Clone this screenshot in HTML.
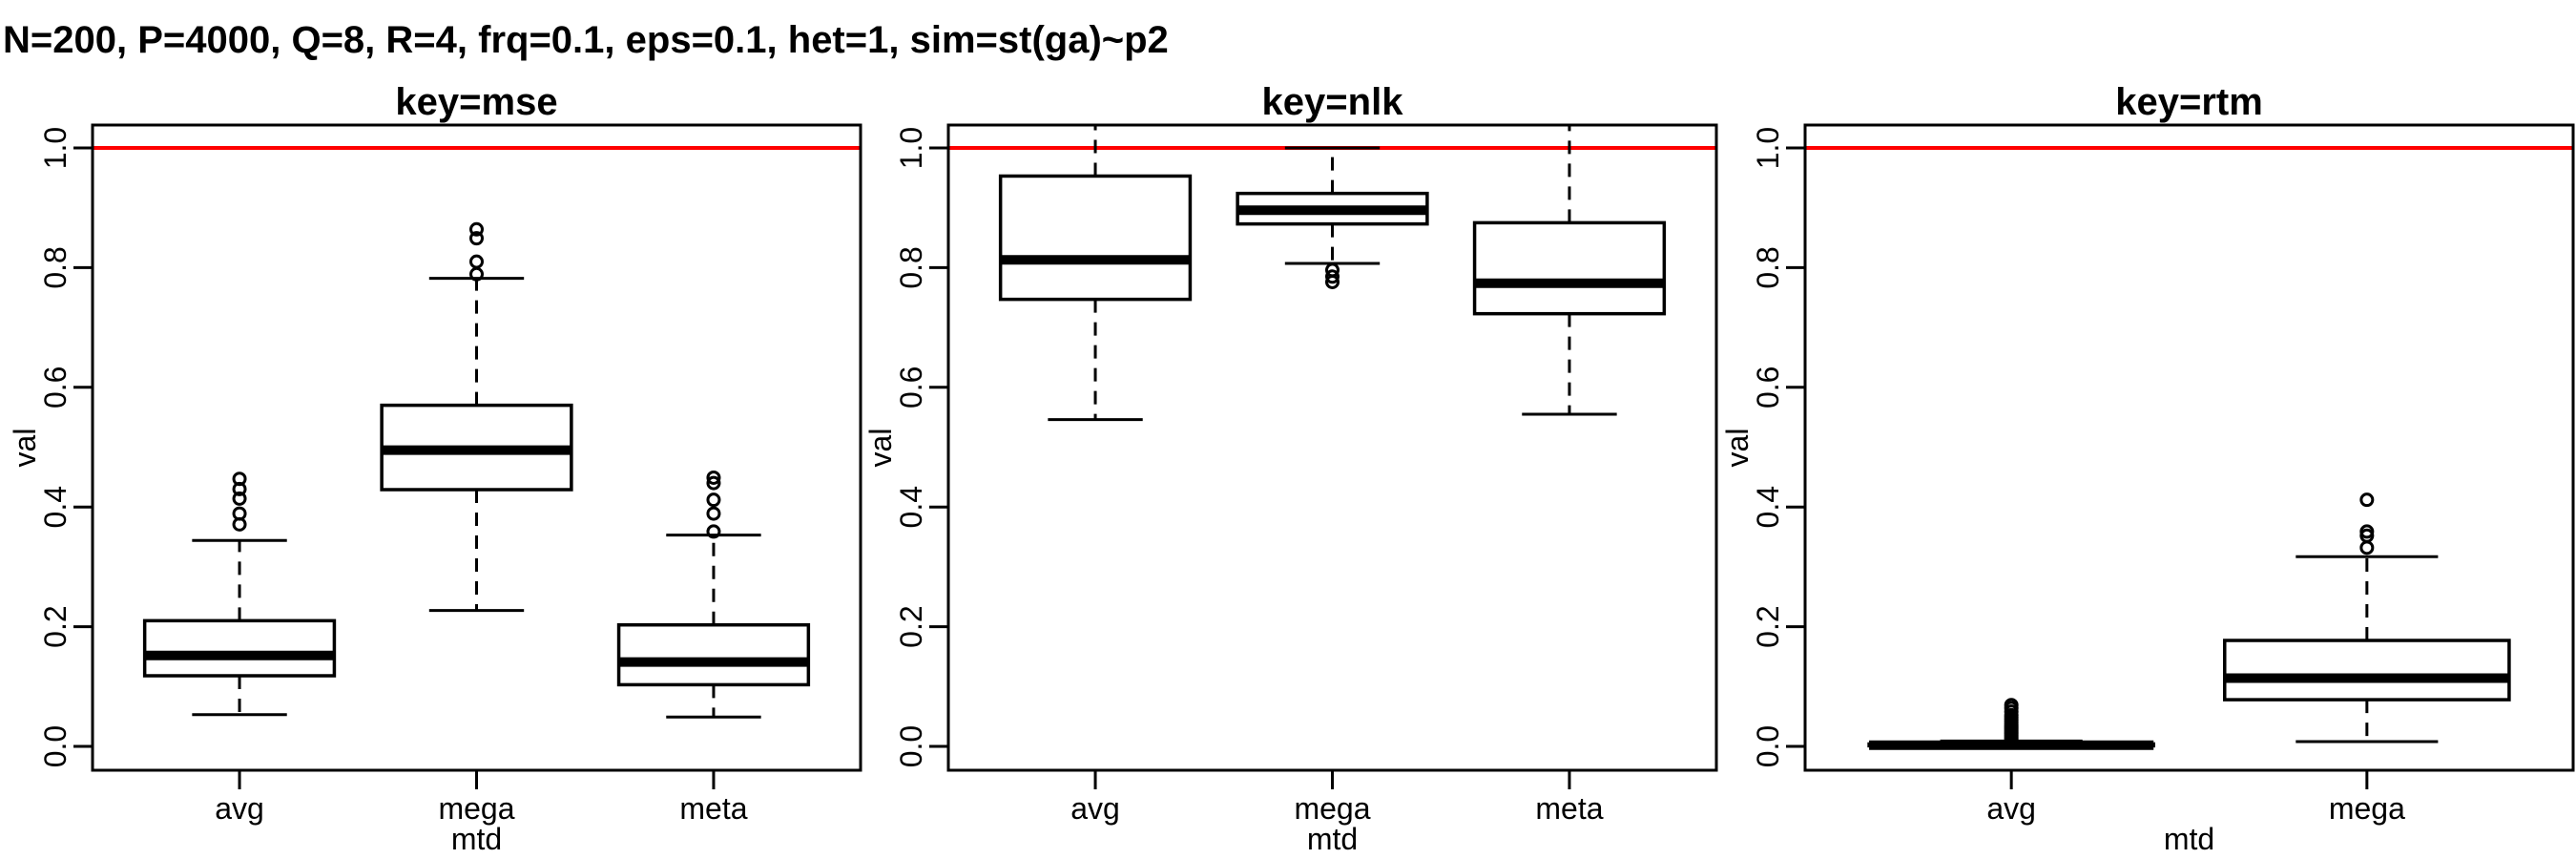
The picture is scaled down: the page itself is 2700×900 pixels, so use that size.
<!DOCTYPE html>
<html><head><meta charset="utf-8"><style>
html,body{margin:0;padding:0;background:#fff;}
svg{display:block;font-family:"Liberation Sans",Arial,sans-serif;}
</style></head><body>
<svg id="chart" width="2700" height="900" viewBox="0 0 2700 900" xmlns="http://www.w3.org/2000/svg">
<text x="3" y="55" font-size="40" font-weight="bold">N=200, P=4000, Q=8, R=4, frq=0.1, eps=0.1, het=1, sim=st(ga)~p2</text>
</svg>
<script>
// ----- data -----
const panelKeys = ["mse", "nlk", "rtm"];
const mseCats = ["avg", "mega", "meta"];
const mseLo = [0.053, 0.227, 0.049];
const mseQ1 = [0.118, 0.429, 0.103];
const mseMed = [0.152, 0.495, 0.141];
const mseQ3 = [0.210, 0.570, 0.203];
const mseHi = [0.344, 0.782, 0.353];
const mseOut = [[0.447, 0.430, 0.414, 0.389, 0.371], [0.864, 0.849, 0.810, 0.789], [0.449, 0.440, 0.412, 0.389, 0.359]];
const nlkCats = ["avg", "mega", "meta"];
const nlkLo = [0.546, 0.807, 0.555];
const nlkQ1 = [0.747, 0.873, 0.723];
const nlkMed = [0.813, 0.896, 0.774];
const nlkQ3 = [0.953, 0.924, 0.875];
const nlkHi = [1.15, 1.0, 1.15];
const nlkOut = [[], [0.796, 0.785, 0.776], []];
const rtmCats = ["avg", "mega"];
const rtmLo = [0.0, 0.008];
const rtmQ1 = [0.001, 0.078];
const rtmMed = [0.002, 0.114];
const rtmQ3 = [0.004, 0.177];
const rtmHi = [0.009, 0.317];
const rtmOut = [[0.012, 0.015, 0.018, 0.021, 0.024, 0.027, 0.030, 0.033, 0.036, 0.040, 0.044, 0.048, 0.052, 0.058, 0.064, 0.069], [0.412, 0.359, 0.352, 0.332]];
const yTicks = [0, 0.2, 0.4, 0.6, 0.8, 1.0];
const yTickLabels = ["0.0", "0.2", "0.4", "0.6", "0.8", "1.0"];
const refValue = 1.0;

const panels = [
  {cats: mseCats, lo: mseLo, q1: mseQ1, med: mseMed, q3: mseQ3, hi: mseHi, out: mseOut},
  {cats: nlkCats, lo: nlkLo, q1: nlkQ1, med: nlkMed, q3: nlkQ3, hi: nlkHi, out: nlkOut},
  {cats: rtmCats, lo: rtmLo, q1: rtmQ1, med: rtmMed, q3: rtmQ3, hi: rtmHi, out: rtmOut}
];

// ----- layout -----
const NS = "http://www.w3.org/2000/svg";
const svg = document.getElementById("chart");
const panelLeft = [97, 994, 1892];
const panelW = 805, plotTop = 131, plotBottom = 807;
function yScale(v) { return 782 - 627 * v; }
function mk(tag, attrs, parent) {
  const e = document.createElementNS(NS, tag);
  for (const k in attrs) e.setAttribute(k, attrs[k]);
  (parent || svg).appendChild(e);
  return e;
}

panels.forEach((p, pi) => {
  const L = panelLeft[pi], R = L + panelW;
  const n = p.cats.length;
  const unit = panelW / (n * 1.08);
  const xScale = i => L + unit * (0.04 * n + 0.5 + i);
  const g = mk("g", {});
  
  
  const clipId = "clip" + pi;
  const cp = mk("clipPath", {id: clipId}, g);
  mk("rect", {x: L, y: plotTop, width: panelW, height: plotBottom - plotTop}, cp);

  const title = mk("text", {x: (L + R) / 2, y: 120, "font-size": 40, "font-weight": "bold", "text-anchor": "middle"}, g);
  title.textContent = "key=" + panelKeys[pi];
  
  

  const plot = mk("g", {"clip-path": "url(#" + clipId + ")"}, g);
  const ref = mk("line", {x1: L, x2: R, y1: yScale(refValue), y2: yScale(refValue), stroke: "#ff0000", "stroke-width": 4}, plot);
  
  

  for (let i = 0; i < n; i++) {
    const cx = xScale(i), bw = unit * 0.8, cw = bw / 2;
    const bg = mk("g", {}, plot);
    
    
    mk("line", {x1: cx, x2: cx, y1: yScale(p.q3[i]), y2: yScale(p.hi[i]), stroke: "#000", "stroke-width": 3, "stroke-dasharray": "14 10"}, bg);
    mk("line", {x1: cx, x2: cx, y1: yScale(p.q1[i]), y2: yScale(p.lo[i]), stroke: "#000", "stroke-width": 3, "stroke-dasharray": "14 10"}, bg);
    mk("line", {x1: cx - cw / 2, x2: cx + cw / 2, y1: yScale(p.hi[i]), y2: yScale(p.hi[i]), stroke: "#000", "stroke-width": 3}, bg);
    mk("line", {x1: cx - cw / 2, x2: cx + cw / 2, y1: yScale(p.lo[i]), y2: yScale(p.lo[i]), stroke: "#000", "stroke-width": 3}, bg);
    mk("rect", {x: cx - bw / 2, y: yScale(p.q3[i]), width: bw, height: Math.max(1, yScale(p.q1[i]) - yScale(p.q3[i])), fill: "#fff", stroke: "#000", "stroke-width": 3.5}, bg);
    mk("line", {x1: cx - bw / 2, x2: cx + bw / 2, y1: yScale(p.med[i]), y2: yScale(p.med[i]), stroke: "#000", "stroke-width": 10}, bg);
    p.out[i].forEach(v => {
      const c = mk("circle", {cx: cx, cy: yScale(v), r: 6, fill: "none", stroke: "#000", "stroke-width": 3}, bg);
      
      
    });
  }

  const fr = mk("rect", {x: L, y: plotTop, width: panelW, height: plotBottom - plotTop, fill: "none", stroke: "#000", "stroke-width": 3}, g);
  
  

  const ya = mk("g", {}, g);
  
  
  yTicks.forEach((t, k) => {
    const y = yScale(t);
    mk("line", {x1: L - 20, x2: L, y1: y, y2: y, stroke: "#000", "stroke-width": 3}, ya);
    const tx = mk("text", {x: L - 28, y: y, "font-size": 32, "text-anchor": "middle", transform: "rotate(-90 " + (L - 28) + " " + y + ")"}, ya);
    tx.textContent = yTickLabels[k];
  });
  const yt = mk("text", {x: L - 60, y: 469, "font-size": 32, "text-anchor": "middle", transform: "rotate(-90 " + (L - 60) + " 469)"}, g);
  yt.textContent = "val";
  
  

  const xa = mk("g", {}, g);
  
  
  for (let i = 0; i < n; i++) {
    const cx = xScale(i);
    mk("line", {x1: cx, x2: cx, y1: plotBottom, y2: plotBottom + 20, stroke: "#000", "stroke-width": 3}, xa);
    const tx = mk("text", {x: cx, y: 858, "font-size": 32, "text-anchor": "middle"}, xa);
    tx.textContent = p.cats[i];
  }
  const xt = mk("text", {x: (L + R) / 2, y: 890, "font-size": 32, "text-anchor": "middle"}, g);
  xt.textContent = "mtd";
  
  
});
</script>
</body></html>
